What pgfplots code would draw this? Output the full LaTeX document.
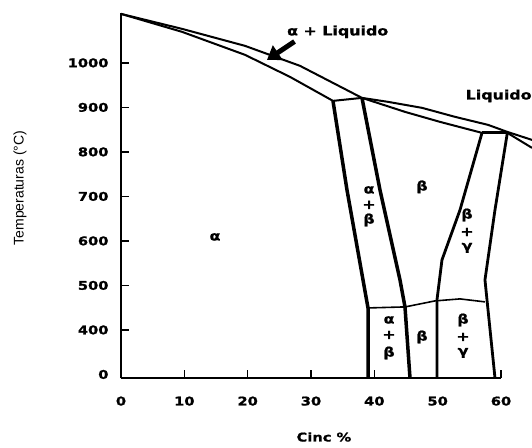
\documentclass[border=0pt]{standalone}
\usepackage{fontspec}
\setmainfont{Liberation Sans}
\newfontfamily\bw[FakeStretch=1.22,FakeBold=1.2]{DejaVu Sans Bold}
\usepackage{pgfplots}
\pgfplotsset{compat=1.18}
\usetikzlibrary{arrows.meta}
\begin{document}
\begin{tikzpicture}
\begin{axis}[
  at={(0pt,0pt)}, anchor=south west,
  scale only axis, width=380pt, height=365pt,
  xmin=0, xmax=60, ymin=292, ymax=1112,
  axis x line=bottom, axis y line=left,
  axis line style={line width=2.4pt,-},
  xtick={0,10,...,60}, ytick={400,500,...,1000},
  extra y ticks={300}, extra y tick labels={0},
  extra y tick style={major tick length=0pt},
  tick align=inside, major tick length=8pt,
  tick style={line width=1.5pt,black},
  /pgf/number format/assume math mode=true,
  /pgf/number format/set thousands separator={},
  tick label style={font=\bw\fontsize{12}{13}\selectfont},
  xticklabel style={anchor=north, yshift=-15pt},
  yticklabel style={anchor=east, xshift=-9pt},
  xlabel={\bw\fontsize{12}{13}\selectfont Cinc \%},
  xlabel style={at={(rel axis cs:0.534,0)}, anchor=center, yshift=-59pt},
  ylabel={\fontsize{14}{16}\selectfont Temperaturas (°C)},
  ylabel style={at={(rel axis cs:0,0.52)}, anchor=center, yshift=101pt},
  clip=false,
]
% liquidus
\addplot[black, line width=2pt] coordinates {(0,1110)(9.63,1076.4)(19.58,1038.2)(28.26,993.3)(38.05,921.3)(42.16,912.4)(47.53,898.9)(52.74,878.7)(57.95,860.7)(61.0,844.9)(64.9,826.9)};
% alpha solidus + peritectic
\addplot[black, line width=2pt] coordinates {(0,1110)(9.63,1069.7)(19.58,1018)(26.68,968.5)(33.47,914.6)(38.05,921.3)};
% beta solidus
\addplot[black, line width=2pt] coordinates {(38.05,921.3)(44.84,889.9)(50.37,867.4)(57.0,842.7)};
\addplot[black, line width=3pt] coordinates {(57.0,842.7)(61.0,842.7)};
\addplot[black, line width=2pt] coordinates {(61.0,842.7)(64.9,809)};
% vertical boundaries
\addplot[black, line width=3.5pt] coordinates {(33.47,914.6)(35.68,714.6)(38.21,512.4)(39.0,449.4)(39.0,292)};
\addplot[black, line width=3.5pt] coordinates {(38.05,921.3)(40.89,714.6)(44.05,512.4)(44.84,451.7)(45.63,292)};
\addplot[black, line width=2.8pt] coordinates {(57.0,842.7)(53.53,669.7)(50.68,557.3)(49.89,467.4)(49.89,292)};
\addplot[black, line width=2.8pt] coordinates {(61.0,842.7)(59.05,669.7)(57.47,512.4)(57.79,467.4)(59.05,292)};
% lower horizontal
\addplot[black, line width=1.6pt] coordinates {(39.0,449.4)(44.84,451.7)(45.63,453.9)(49.58,465.2)(53.53,469.7)(57.47,463)};
% arrow
\draw[black, line width=5pt, -{Triangle[length=13pt,width=17pt]}] (axis cs:27.4,1048) -- (axis cs:23.05,1006.7);
% labels
\begin{scope}[every node/.style={font=\bw\fontsize{13}{14}\selectfont, inner sep=0pt}]
\node[anchor=west] at (axis cs:26.2,1069.7) {α + Liquido};
\node[anchor=west] at (axis cs:54.4,925.8) {Liquido};
\node at (axis cs:14.84,609) {α};
\node at (axis cs:39.16,714.6) {α};
\node at (axis cs:39.16,680.9) {+};
\node at (axis cs:39.16,647.2) {β};
\node at (axis cs:47.53,721.4) {β};
\node at (axis cs:54.63,658.4) {β};
\node at (axis cs:54.63,620) {+};
\node at (axis cs:54.63,584.3) {γ};
\node at (axis cs:42.32,422.5) {α};
\node at (axis cs:42.32,388.8) {+};
\node at (axis cs:42.32,348.3) {β};
\node at (axis cs:47.53,384.3) {β};
\node at (axis cs:54.0,422.5) {β};
\node at (axis cs:54.0,384.3) {+};
\node at (axis cs:54.0,348.3) {γ};
\end{scope}
\end{axis}
\pgfresetboundingbox
\path[use as bounding box] (-121pt,-69pt) rectangle (411pt,378pt);
\end{tikzpicture}
\end{document}
